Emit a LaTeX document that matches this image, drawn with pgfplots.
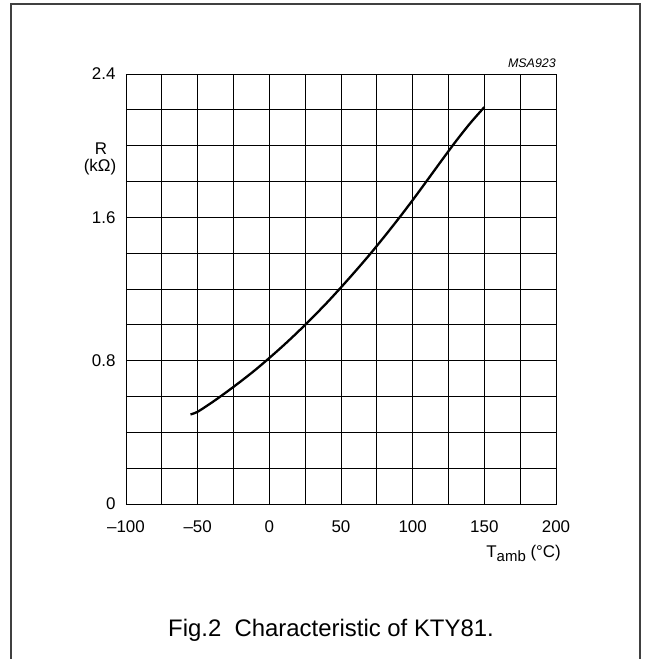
\documentclass[border=0pt]{standalone}
\usepackage{fontspec}
\setmainfont{Liberation Sans}
\usepackage{pgfplots}
\pgfplotsset{compat=1.18}
\begin{document}
\begin{tikzpicture}
% page = reference size, 1 px = 1 bp, origin = lower left of the axis
\path[use as bounding box] (-126bp,-155bp) rectangle (527bp,504bp);
\draw[line width=1.3bp, black!75] (-115bp,-160bp) -- (-115bp,500bp) -- (514bp,500bp) -- (514bp,-160bp);
\begin{axis}[
    at={(0,0)}, anchor=south west,
    scale only axis,
    width=430bp, height=430bp,
    xmin=-100, xmax=200,
    ymin=0, ymax=2.4,
    xtick={-100,-50,...,200},
    xticklabels={–100,–50,0,50,100,150,200},
    minor xtick={-75,-25,...,175},
    ytick={0,0.8,1.6,2.4},
    yticklabels={0,0.8,1.6,2.4},
    minor ytick={0.2,0.4,0.6,1.0,1.2,1.4,1.8,2.0,2.2},
    grid=both,
    grid style={line width=0.8bp, draw=black},
    minor grid style={line width=0.8bp, draw=black},
    axis line style={line width=0.8bp},
    major tick length=0pt, minor tick length=0pt,
    xticklabel style={font=\fontsize{17}{20}\selectfont, anchor=base, yshift=-28bp},
    yticklabel style={font=\fontsize{17}{20}\selectfont, anchor=east, xshift=-7bp},
    clip=false,
]
% R(T) of the KTY81, kOhm
\addplot[black, line width=2.3bp, smooth, tension=0.5] coordinates {
    (-55, 0.500) (-50, 0.515) (-40, 0.567) (-30, 0.624) (-20, 0.684)
    (-10, 0.747) (0, 0.815) (10, 0.886) (20, 0.961)
    (30, 1.040) (40, 1.122) (50, 1.209) (60, 1.299) (70, 1.392)
    (80, 1.490) (90, 1.591) (100, 1.696) (110, 1.805) (120, 1.915)
    (130, 2.023) (140, 2.124) (150, 2.215)
};
\end{axis}
\node[anchor=south east, inner sep=0pt, font=\fontsize{12.5}{14}\selectfont\itshape] at (430bp,436bp) {MSA923};
\node[font=\fontsize{17}{20}\selectfont] at (-25bp,355bp) {R};
\node[font=\fontsize{17}{20}\selectfont] at (-26bp,337bp) {(kΩ)};
\node[anchor=east, inner sep=0pt, font=\fontsize{17}{20}\selectfont] at (435bp,-49bp) {T\raisebox{-0.45ex}{\fontsize{15}{17}\selectfont amb} (°C)};
\node[font=\fontsize{24}{27}\selectfont] at (205bp,-126bp) {Fig.2\ \ Characteristic of KTY81.};
\end{tikzpicture}
\end{document}
